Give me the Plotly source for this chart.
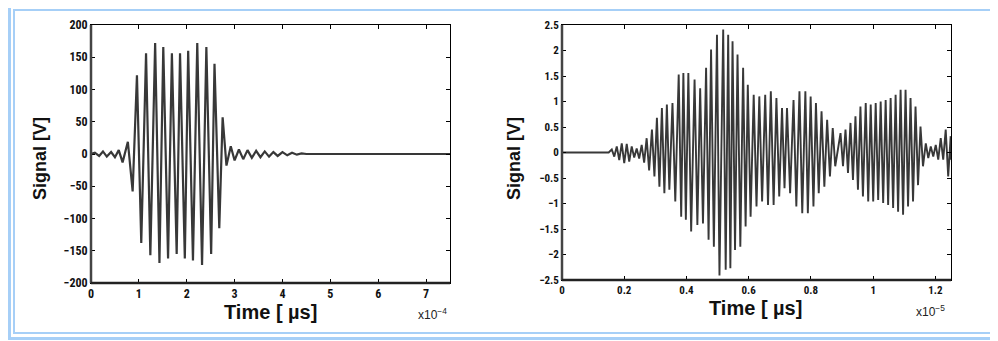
import plotly.graph_objects as go

# The page body has an 8px default margin, so the figure is drawn 8px smaller
# and every reference pixel position is shifted by OFF.
OFF = 8
W, H = 998 - OFF, 341 - OFF

# ---- Left chart data (time in units shown on axis, signal in V) ----
left_t = [0, 0.08, 0.17, 0.25, 0.33, 0.42, 0.5, 0.58, 0.66, 0.77, 0.87, 0.96,
          1.05, 1.15, 1.24, 1.34, 1.43, 1.51, 1.61, 1.69, 1.79, 1.86, 1.96, 2.03,
          2.13, 2.22, 2.32, 2.41, 2.51, 2.58, 2.68, 2.75, 2.83, 2.92, 3.0, 3.09,
          3.18, 3.27, 3.36, 3.45, 3.54, 3.63, 3.72, 3.81, 3.9, 4.0, 4.1, 4.2, 4.3,
          4.4, 4.5, 7.5]
left_v = [0, 2, -3, 4, -4, 3, -5, 6, -13, 19, -58, 122,
          -138, 156, -157, 172, -169, 166, -162, 156, -155, 156, -162, 160,
          -165, 172, -172, 166, -155, 140, -115, 57, -18, 12, -10, 7,
          -8, 6, -6, 5, -5, 4, -4, 3, -3, 3, -2, 2, -1,
          1, 0, 0]

# ---- Right chart data ----
right_t = [0, 0.15, 0.16, 0.168, 0.176, 0.184, 0.192, 0.200, 0.208, 0.216, 0.224,
           0.232, 0.240, 0.248, 0.256, 0.264,
           0.272, 0.280, 0.289, 0.297, 0.305, 0.313, 0.321, 0.329, 0.337, 0.345,
           0.355, 0.364, 0.375, 0.383, 0.390, 0.398, 0.406, 0.415, 0.426, 0.435,
           0.444, 0.453, 0.463, 0.471, 0.479, 0.488, 0.498, 0.506, 0.518, 0.526,
           0.534, 0.541, 0.548, 0.556, 0.564, 0.573, 0.582, 0.590, 0.597, 0.606,
           0.616, 0.625, 0.634, 0.643, 0.653, 0.662, 0.671, 0.680, 0.689, 0.698,
           0.707, 0.715, 0.723, 0.733, 0.744, 0.753, 0.763, 0.772, 0.782, 0.790,
           0.799, 0.808, 0.816, 0.825, 0.834, 0.843, 0.852, 0.861, 0.870, 0.878,
           0.895, 0.903, 0.911, 0.919, 0.927, 0.935, 0.943, 0.951, 0.959, 0.967,
           0.976, 0.984, 0.992, 1.000, 1.008, 1.016, 1.024, 1.032, 1.040, 1.048,
           1.056, 1.064, 1.072, 1.080, 1.088, 1.096, 1.104, 1.112, 1.120, 1.128,
           1.136, 1.144, 1.152, 1.160, 1.169, 1.177, 1.185, 1.193, 1.201, 1.209,
           1.217, 1.225, 1.233, 1.241, 1.249, 1.25]
right_v = [0, 0, 0.06, -0.08, 0.12, -0.15, 0.18, -0.21, 0.17, -0.18, 0.12,
           -0.1, 0.08, -0.12, 0.15, -0.2,
           0.28, -0.35, 0.45, -0.47, 0.68, -0.67, 0.87, -0.80, 0.94, -0.73,
           0.97, -0.96, 1.53, -1.26, 1.56, -1.32, 1.56, -1.55, 1.43, -1.42,
           1.26, -1.39, 1.66, -1.71, 2.02, -1.85, 2.31, -2.41, 2.41, -2.30,
           2.31, -2.27, 2.18, -1.91, 1.92, -1.85, 1.66, -1.45, 1.33, -1.26,
           1.13, -1.06, 1.10, -0.96, 1.13, -1.03, 1.20, -1.03, 1.07, -0.86,
           0.87, -0.70, 0.87, -0.80, 1.03, -1.06, 1.20, -1.19, 1.20, -1.19,
           1.10, -1.06, 0.97, -0.80, 0.81, -0.67, 0.64, -0.47, 0.48, -0.27,
           0.38, -0.27, 0.45, -0.40, 0.58, -0.54, 0.71, -0.73, 0.90, -0.86,
           0.97, -0.96, 0.94, -0.96, 0.97, -0.93, 1.00, -0.99, 1.03, -1.03,
           1.07, -1.09, 1.13, -1.16, 1.23, -1.22, 1.23, -1.06, 1.07, -0.96,
           0.90, -0.64, 0.51, -0.27, 0.18, -0.11, 0.12, -0.08, 0.15, -0.14,
           0.28, -0.14, 0.45, -0.47, 0.32, -0.14]

left_xticks = [0, 1, 2, 3, 4, 5, 6, 7]
left_yticks = [-200, -150, -100, -50, 0, 50, 100, 150, 200]
right_xticks = [0, 0.2, 0.4, 0.6, 0.8, 1.0, 1.2]
right_xticklabels = ["0", "0.2", "0.4", "0.6", "0.8", "1", "1.2"]
right_yticks = [-2.5, -2, -1.5, -1, -0.5, 0, 0.5, 1, 1.5, 2, 2.5]
right_yticklabels = ["\u22122.5", "\u22122", "\u22121.5", "\u22121", "\u22120.5",
                     "0", "0.5", "1", "1.5", "2", "2.5"]

x_title = "Time [ \u00b5s]"
y_title = "Signal [V]"
left_exp = "x10<sup>\u22124</sup>"
right_exp = "x10<sup>\u22125</sup>"


def px(x):
    return (x - OFF) / W


def py(y):
    return 1 - (y - OFF) / H


line_col = "#383838"
fig = go.Figure()
fig.add_trace(go.Scatter(x=left_t, y=left_v, mode="lines",
                         line=dict(color=line_col, width=2.2),
                         xaxis="x", yaxis="y", showlegend=False))
fig.add_trace(go.Scatter(x=right_t, y=right_v, mode="lines",
                         line=dict(color=line_col, width=1.9),
                         xaxis="x2", yaxis="y2", showlegend=False))

tickfont_l = dict(family="Liberation Sans Narrow, Roboto Condensed, Arial", size=12,
                  color="#111", weight="bold")
tickfont_r = dict(family="Liberation Sans Narrow, Roboto Condensed, Arial", size=11,
                  color="#111", weight="bold")
ax_common = dict(showgrid=False, zeroline=False, showline=True, linecolor="black",
                 linewidth=1, mirror="ticks", ticks="inside", ticklen=4,
                 tickcolor="black", tickwidth=1, automargin=False)

fig.update_layout(
    width=W, height=H, margin=dict(l=0, r=0, t=0, b=0),
    paper_bgcolor="white", plot_bgcolor="white",
    xaxis=dict(domain=[px(91), px(450)], range=[0, 7.5], tickvals=left_xticks,
               tickfont=tickfont_l, anchor="y", **ax_common),
    yaxis=dict(domain=[py(283), py(25)], range=[-200, 200], tickvals=left_yticks,
               tickfont=tickfont_l, anchor="x", **ax_common),
    xaxis2=dict(domain=[px(562), px(951)], range=[0, 1.25], tickvals=right_xticks,
                ticktext=right_xticklabels, tickfont=tickfont_r, anchor="y2",
                **ax_common),
    yaxis2=dict(domain=[py(280), py(25)], range=[-2.5, 2.5], tickvals=right_yticks,
                ticktext=right_yticklabels, tickfont=tickfont_r, anchor="x2",
                **ax_common),
)

shapes = []
# light blue double frame
shapes.append(dict(type="rect", xref="paper", yref="paper",
                   x0=px(9.5), x1=px(996.5), y0=py(338.5), y1=py(5.5),
                   line=dict(color="#a6cff7", width=3)))
shapes.append(dict(type="rect", xref="paper", yref="paper",
                   x0=px(14), x1=px(991), y0=py(333), y1=py(10),
                   line=dict(color="#a6cff7", width=2)))
# thicker left / bottom axis lines
for xr, yr in (("x domain", "y domain"), ("x2 domain", "y2 domain")):
    shapes.append(dict(type="line", xref=xr, yref=yr, x0=0, x1=0, y0=0, y1=1,
                       line=dict(color="#444", width=2.5)))
    shapes.append(dict(type="line", xref=xr, yref=yr, x0=0, x1=1, y0=0, y1=0,
                       line=dict(color="#222", width=2.5)))
fig.update_layout(shapes=shapes)

title_font = dict(family="Liberation Sans, Arial", size=20, color="#111")
ytitle_font = dict(family="Liberation Sans, Arial", size=18, color="#111")
exp_font = dict(family="Liberation Sans, Arial", size=12, color="#222")
ann = [
    dict(x=px(270), y=py(312), text="<b>" + x_title + "</b>", font=title_font),
    dict(x=px(40), y=py(159), text="<b>" + y_title + "</b>", font=ytitle_font,
         textangle=-90),
    dict(x=px(755), y=py(308), text="<b>" + x_title + "</b>", font=title_font),
    dict(x=px(514), y=py(158), text="<b>" + y_title + "</b>", font=ytitle_font,
         textangle=-90),
    dict(x=px(432), y=py(314), text=left_exp, font=exp_font),
    dict(x=px(930), y=py(311), text=right_exp, font=exp_font),
]
for a in ann:
    a.update(xref="paper", yref="paper", showarrow=False,
             xanchor="center", yanchor="middle")
fig.update_layout(annotations=ann)

fig.write_html("out.html")
